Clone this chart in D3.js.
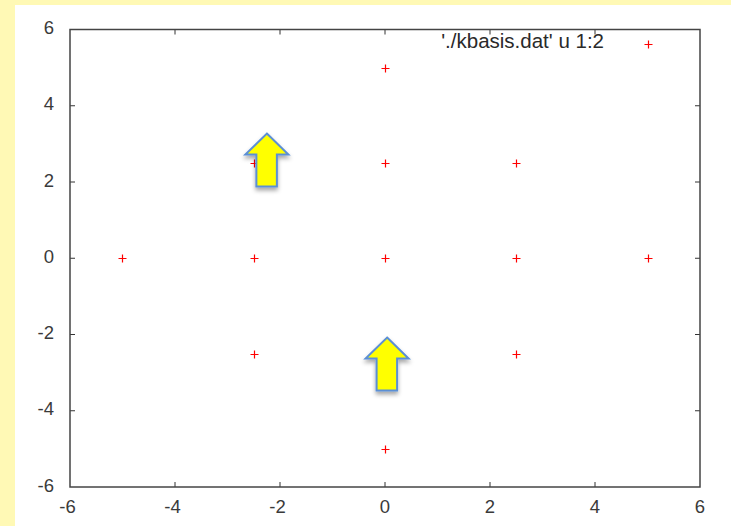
<!DOCTYPE html>
<html><head><meta charset="utf-8">
<script src="https://cdn.jsdelivr.net/npm/d3@7"></script>
<style>html,body{margin:0;padding:0;background:#fff9b5;}svg{display:block;}</style>
</head><body>
<script>
const xs = [0, -2.5, 0, 2.5, -5, -2.5, 0, 2.5, 5, -2.5, 0, 2.5, 0];
const ys = [5, 2.5, 2.5, 2.5, 0, 0, 0, 0, 0, -2.5, -2.5, -2.5, -5];
const xTicks = [-6, -4, -2, 0, 2, 4, 6];
const yTicks = [-6, -4, -2, 0, 2, 4, 6];
const legendLabel = "'./kbasis.dat' u 1:2";
const arrowX = [-2.25, 0.04];
const arrowY = [3.27, -2.08];

const W = 731, H = 526;
const svg = d3.select("body").append("svg").attr("width", W).attr("height", H);
svg.append("rect").attr("x", 0).attr("y", 0).attr("width", W).attr("height", H).attr("fill", "#fff9b5");
svg.append("rect").attr("x", 15).attr("y", 5).attr("width", W - 15).attr("height", H - 5).attr("fill", "#ffffff");

const defs = svg.append("defs");
const f = defs.append("filter").attr("id", "sh").attr("x", "-50%").attr("y", "-50%").attr("width", "200%").attr("height", "200%");
f.append("feDropShadow").attr("dx", 0).attr("dy", 3).attr("stdDeviation", 2).attr("flood-color", "#000").attr("flood-opacity", 0.35);

const L = 70, R = 700, T = 29.5, B = 487;
const x = d3.scaleLinear().domain([-6, 6]).range([L, R]);
const y = d3.scaleLinear().domain([-6, 6]).range([B, T]);

const font = "'Liberation Sans', Arial, sans-serif";
const fs = 18.5;
const g = svg.append("g");

// ticks (inward, mirrored)
const tl = 5;
const tk = g.append("g").attr("stroke", "#333").attr("stroke-width", 1);
xTicks.forEach(t => {
  if (t === -6 || t === 6) return;
  tk.append("line").attr("x1", x(t)).attr("x2", x(t)).attr("y1", B).attr("y2", B - tl);
  tk.append("line").attr("x1", x(t)).attr("x2", x(t)).attr("y1", T).attr("y2", T + tl);
});
yTicks.forEach(t => {
  if (t === -6 || t === 6) return;
  tk.append("line").attr("x1", L).attr("x2", L + tl).attr("y1", y(t)).attr("y2", y(t));
  tk.append("line").attr("x1", R).attr("x2", R - tl).attr("y1", y(t)).attr("y2", y(t));
});

// frame
g.append("rect").attr("x", L).attr("y", T).attr("width", R - L).attr("height", B - T)
  .attr("fill", "none").attr("stroke", "#444").attr("stroke-width", 1.5);

// tick labels
g.selectAll(".xl").data(xTicks).enter().append("text")
  .attr("x", d => x(d) - (d < 0 ? 2.5 : 0)).attr("y", 512.5).attr("text-anchor", "middle")
  .attr("font-family", font).attr("font-size", fs).attr("fill", "#3a3a3a").text(d => d);
g.selectAll(".yl").data(yTicks).enter().append("text")
  .attr("x", 54).attr("y", d => y(d) + 4.5).attr("text-anchor", "end")
  .attr("font-family", font).attr("font-size", fs).attr("fill", "#3a3a3a").text(d => d);

// points
const ps = 4;
function plus(sel, cx, cy) {
  sel.append("path").attr("d", `M${cx - ps},${cy}H${cx + ps}M${cx},${cy - ps}V${cy + ps}`);
}
const pts = g.append("g").attr("stroke", "#ff0000").attr("stroke-width", 1.2).attr("fill", "none");
xs.forEach((v, i) => plus(pts, Math.round(x(v)) + 0.5, Math.round(y(ys[i])) + 0.5));

// legend
g.append("text").attr("x", 604).attr("y", 47.5).attr("text-anchor", "end")
  .attr("font-family", font).attr("font-size", 20.5).attr("fill", "#2a2a2a").text(legendLabel);
plus(pts, 648.5, 44.5);

// arrows (tip at data coordinates)
arrowX.forEach((ax, i) => {
  const tx = x(ax), ty = y(arrowY[i]);
  const p = d3.path();
  p.moveTo(tx, ty);
  p.lineTo(tx + 21.5, ty + 21);
  p.lineTo(tx + 10, ty + 21);
  p.lineTo(tx + 10, ty + 53);
  p.lineTo(tx - 10.5, ty + 53);
  p.lineTo(tx - 10.5, ty + 21);
  p.lineTo(tx - 21.5, ty + 21);
  p.closePath();
  svg.append("path").attr("d", p.toString()).attr("fill", "#ffff00")
    .attr("stroke", "#5b8fd4").attr("stroke-width", 2).attr("stroke-linejoin", "miter")
    .attr("filter", "url(#sh)");
});
</script>
</body></html>
